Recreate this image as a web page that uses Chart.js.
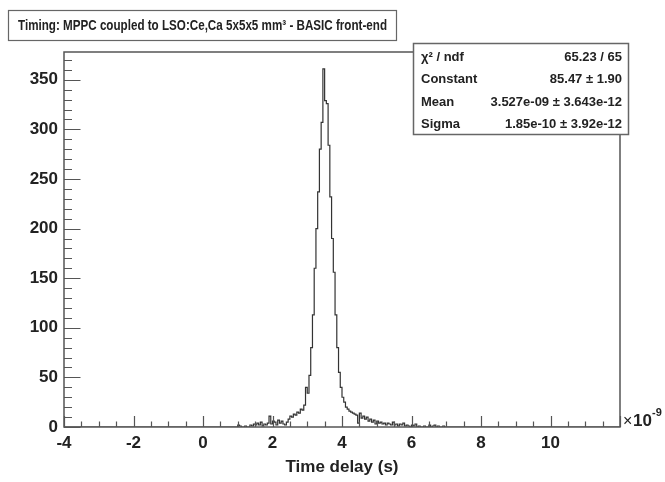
<!DOCTYPE html>
<html>
<head>
<meta charset="utf-8">
<title>Timing MPPC</title>
<script src="https://cdn.jsdelivr.net/npm/chart.js@4"></script>
<style>
  body { margin: 0; background: #fff; }
  #wrap { width: 665px; height: 482px; }
</style>
</head>
<body>
<div id="wrap"><canvas id="myChart" width="665" height="482"></canvas></div>
<script>
// histogram binning (x in units of 1e-9 s)
const binLow = -4;
const binHigh = 12;
const binWidth = 0.05;
const countsStart = 1.0;
// bin contents from 1.00 to 6.95 (left edges), everything else is empty
const counts = [
  0, 2, 1, 0, 0, 1, 0, 0, 2, 1,
  3, 2, 4, 2, 5, 1, 3, 2, 4, 11,
  3, 6, 5, 2, 7, 4, 6, 3, 2, 5,
  8, 11, 10, 13, 12, 15, 14, 18, 17, 22,
  40, 34, 52, 80, 113, 160, 200, 237, 280, 307,
  361, 329, 326, 284, 232, 190, 156, 113, 80, 55,
  40, 30, 25, 20, 18, 16, 15, 14, 13, 12,
  4, 14, 9, 11, 8, 10, 6, 8, 5, 7,
  3, 6, 4, 5, 3, 4, 2, 4, 3, 2,
  5, 2, 3, 1, 3, 2, 4, 1, 2, 1,
  0, 2, 1, 3, 0, 1, 0, 0, 1, 0,
  0, 2, 0, 1, 2, 0, 1, 0, 0, 1
];
const xTicks = [-4, -2, 0, 2, 4, 6, 8, 10];
const yTicks = [0, 50, 100, 150, 200, 250, 300, 350];
const yMax = 378;
const titleText = "Timing: MPPC coupled to LSO:Ce,Ca 5x5x5 mm\u00B3 - BASIC front-end";
const statsLabels = ["\u03C7\u00B2 / ndf", "Constant", "Mean", "Sigma"];
const statsValues = ["65.23 / 65", "85.47 \u00B1 1.90", "3.527e-09 \u00B1 3.643e-12", "1.85e-10 \u00B1 3.92e-12"];

const nBins = Math.round((binHigh - binLow) / binWidth);
const points = [];
for (let i = 0; i <= nBins; i++) {
  const x = binLow + i * binWidth;
  const k = Math.round((x - countsStart) / binWidth);
  const y = k >= 0 && k < counts.length ? counts[k] : 0;
  points.push({ x: +x.toFixed(2), y });
}

const FONT = '"Liberation Sans", Arial, sans-serif';
const INK = "#222";
const LINE = "#555";

const rootDecor = {
  id: "rootDecor",
  afterDraw(chart) {
    const ctx = chart.ctx;
    const a = chart.chartArea;
    const xs = chart.scales.x;
    const ys = chart.scales.y;
    ctx.save();

    // frame
    ctx.strokeStyle = LINE;
    ctx.lineWidth = 1.5;
    ctx.strokeRect(a.left, a.top, a.right - a.left, a.bottom - a.top);

    // ticks pointing inside, like ROOT
    ctx.lineWidth = 1.2;
    ctx.beginPath();
    for (let v = binLow; v <= binHigh + 1e-9; v += 0.5) {
      const px = Math.round(xs.getPixelForValue(v)) + 0.5;
      const len = Math.abs(v % 2) < 1e-9 ? 11 : 5.5;
      ctx.moveTo(px, a.bottom);
      ctx.lineTo(px, a.bottom - len);
    }
    for (let v = 0; v <= yMax; v += 10) {
      const py = Math.round(ys.getPixelForValue(v)) + 0.5;
      const len = v % 50 === 0 ? 16.5 : 8;
      ctx.moveTo(a.left, py);
      ctx.lineTo(a.left + len, py);
    }
    ctx.stroke();

    // title box
    ctx.fillStyle = "#fff";
    ctx.fillRect(8, 10, 388, 30);
    ctx.strokeStyle = "#666";
    ctx.lineWidth = 1.2;
    ctx.strokeRect(8.5, 10.5, 388, 30);
    ctx.fillStyle = INK;
    ctx.font = "bold 15px " + FONT;
    ctx.textBaseline = "middle";
    ctx.textAlign = "left";
    const tw = ctx.measureText(titleText).width;
    ctx.save();
    ctx.translate(18, 25.5);
    ctx.scale(369 / tw, 1);
    ctx.fillText(titleText, 0, 0);
    ctx.restore();

    // stats box
    const sx = 413, sy = 43, sw = 215, sh = 91;
    ctx.fillStyle = "#fff";
    ctx.fillRect(sx, sy, sw, sh);
    ctx.strokeStyle = "#666";
    ctx.lineWidth = 1.5;
    ctx.strokeRect(sx + 0.5, sy + 0.5, sw, sh);
    ctx.font = "bold 13px " + FONT;
    ctx.fillStyle = INK;
    const rowY = [57, 79, 102, 124];
    statsLabels.forEach((lab, i) => {
      ctx.textAlign = "left";
      ctx.fillText(lab, 421, rowY[i]);
      ctx.textAlign = "right";
      ctx.fillText(statsValues[i], 622, rowY[i]);
    });

    // exponent of x axis
    ctx.textAlign = "left";
    ctx.textBaseline = "alphabetic";
    ctx.font = "16px " + FONT;
    ctx.fillText("\u00D7", 623, 426);
    ctx.font = "bold 17px " + FONT;
    ctx.fillText("10", 633, 426);
    ctx.font = "bold 11px " + FONT;
    ctx.fillText("-9", 652, 416);

    ctx.restore();
  }
};

const ctx = document.getElementById("myChart").getContext("2d");
const myChart = new Chart(ctx, {
  type: "line",
  data: {
    datasets: [{
      data: points,
      stepped: "after",
      borderColor: "#333",
      borderWidth: 1.2,
      pointRadius: 0,
      fill: false,
    }]
  },
  options: {
    responsive: false,
    animation: false,
    layout: { padding: { top: 52, right: 45, left: 0, bottom: 0 } },
    plugins: { legend: { display: false }, tooltip: { enabled: false } },
    scales: {
      x: {
        type: "linear",
        min: binLow,
        max: binHigh,
        afterFit: (s) => { s.height = 55; },
        afterBuildTicks: (s) => { s.ticks = xTicks.map((v) => ({ value: v })); },
        grid: { display: false, drawTicks: false },
        border: { display: false },
        ticks: {
          autoSkip: false,
          maxRotation: 0,
          padding: 6,
          color: INK,
          font: { family: FONT, size: 17, weight: "bold" },
        },
        title: {
          display: true,
          text: "Time delay (s)",
          color: INK,
          font: { family: FONT, size: 17, weight: "bold" },
          padding: { top: 0, bottom: 4 },
        },
      },
      y: {
        type: "linear",
        min: 0,
        max: yMax,
        afterFit: (s) => { s.width = 64; },
        afterBuildTicks: (s) => { s.ticks = yTicks.map((v) => ({ value: v })); },
        grid: { display: false, drawTicks: false },
        border: { display: false },
        ticks: {
          padding: 6,
          color: INK,
          font: { family: FONT, size: 17, weight: "bold" },
        },
      },
    },
  },
  plugins: [rootDecor],
});
</script>
</body>
</html>
